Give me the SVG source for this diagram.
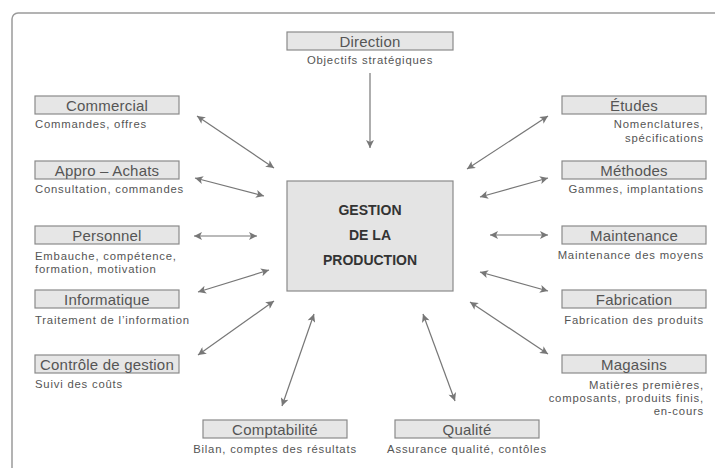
<svg xmlns="http://www.w3.org/2000/svg" width="715" height="468" viewBox="0 0 715 468">
<defs>
<style>
.frame{fill:none;stroke:#9a9a9a;stroke-width:1.5}
.box{fill:#e6e6e6;stroke:#8a8a8a;stroke-width:1.2}
.lbl{font-family:"Liberation Sans",Arial,sans-serif;font-size:15px;letter-spacing:0.2px;fill:#555;text-anchor:middle}
.sub{font-family:"Liberation Sans",Arial,sans-serif;font-size:11.3px;letter-spacing:0.8px;fill:#555}
.c{text-anchor:middle}
.r{text-anchor:end}
.core{fill:#e4e4e4;stroke:#8a8a8a;stroke-width:1.2}
.big{font-family:"Liberation Sans",Arial,sans-serif;font-size:14px;font-weight:bold;fill:#333;text-anchor:middle}
.ln{stroke:#777;stroke-width:1.2;fill:none;marker-end:url(#ah)}
.dl{marker-start:url(#as)}
</style>
<marker id="ah" viewBox="0 0 10 10" refX="10" refY="5" markerWidth="11" markerHeight="8" markerUnits="userSpaceOnUse" orient="auto"><path d="M0,0 L10,5 L0,10 L2.5,5 z" fill="#777"/></marker>
<marker id="as" viewBox="0 0 10 10" refX="0" refY="5" markerWidth="11" markerHeight="8" markerUnits="userSpaceOnUse" orient="auto"><path d="M10,0 L0,5 L10,10 L7.5,5 z" fill="#777"/></marker>
</defs>
<rect width="715" height="468" fill="#fff"/>
<rect class="frame" x="12" y="13" width="760" height="520" rx="6"/>

<g id="connectors">
<line class="ln" x1="370" y1="73" x2="370" y2="148"/>
<line class="ln dl" x1="197" y1="116" x2="274" y2="168"/>
<line class="ln dl" x1="195" y1="178" x2="264" y2="196"/>
<line class="ln dl" x1="194" y1="236" x2="257" y2="236"/>
<line class="ln dl" x1="198" y1="292" x2="269" y2="270"/>
<line class="ln dl" x1="198" y1="355" x2="274" y2="301"/>
<line class="ln dl" x1="282" y1="406" x2="314" y2="314"/>
<line class="ln dl" x1="455" y1="401" x2="423" y2="314"/>
<line class="ln dl" x1="548" y1="354" x2="470" y2="302"/>
<line class="ln dl" x1="548" y1="291" x2="480" y2="272"/>
<line class="ln dl" x1="548" y1="235" x2="490" y2="235"/>
<line class="ln dl" x1="548" y1="178" x2="480" y2="197"/>
<line class="ln dl" x1="548" y1="116" x2="467" y2="169"/>
</g>

<g id="center">
<rect class="core" x="287" y="181" width="166" height="110"/>
<text class="big" x="370" y="215">GESTION</text>
<text class="big" x="370" y="240">DE LA</text>
<text class="big" x="370" y="265">PRODUCTION</text>
</g>

<g id="direction">
<rect class="box" x="287" y="32" width="166" height="18"/>
<text class="lbl" x="370" y="46.5">Direction</text>
<text class="sub c" x="370" y="64">Objectifs stratégiques</text>
</g>

<g id="commercial">
<rect class="box" x="35" y="96" width="144" height="18"/>
<text class="lbl" x="107" y="110.5">Commercial</text>
<text class="sub" x="35" y="128">Commandes, offres</text>
</g>
<g id="appro">
<rect class="box" x="35" y="161" width="144" height="18"/>
<text class="lbl" x="107" y="175.5">Appro – Achats</text>
<text class="sub" x="35" y="193">Consultation, commandes</text>
</g>
<g id="personnel">
<rect class="box" x="35" y="226" width="144" height="18"/>
<text class="lbl" x="107" y="240.5">Personnel</text>
<text class="sub" x="35" y="260">Embauche, compétence,</text>
<text class="sub" x="35" y="273">formation, motivation</text>
</g>
<g id="informatique">
<rect class="box" x="35" y="290" width="144" height="18"/>
<text class="lbl" x="107" y="304.5">Informatique</text>
<text class="sub" x="35" y="324">Traitement de l’information</text>
</g>
<g id="controle">
<rect class="box" x="35" y="355" width="144" height="18"/>
<text class="lbl" x="107" y="369.5">Contrôle de gestion</text>
<text class="sub" x="35" y="388">Suivi des coûts</text>
</g>
<g id="comptabilite">
<rect class="box" x="203" y="420" width="144" height="18"/>
<text class="lbl" x="275" y="434.5">Comptabilité</text>
<text class="sub c" x="275" y="453">Bilan, comptes des résultats</text>
</g>
<g id="qualite">
<rect class="box" x="395" y="420" width="144" height="18"/>
<text class="lbl" x="467" y="434.5">Qualité</text>
<text class="sub c" x="467" y="453">Assurance qualité, contôles</text>
</g>

<g id="etudes">
<rect class="box" x="562" y="96" width="144" height="18"/>
<text class="lbl" x="634" y="110.5">Études</text>
<text class="sub r" x="704" y="128">Nomenclatures,</text>
<text class="sub r" x="704" y="142">spécifications</text>
</g>
<g id="methodes">
<rect class="box" x="562" y="161" width="144" height="18"/>
<text class="lbl" x="634" y="175.5">Méthodes</text>
<text class="sub r" x="704" y="193">Gammes, implantations</text>
</g>
<g id="maintenance">
<rect class="box" x="562" y="226" width="144" height="18"/>
<text class="lbl" x="634" y="240.5">Maintenance</text>
<text class="sub r" x="704" y="259">Maintenance des moyens</text>
</g>
<g id="fabrication">
<rect class="box" x="562" y="290" width="144" height="18"/>
<text class="lbl" x="634" y="304.5">Fabrication</text>
<text class="sub r" x="704" y="324">Fabrication des produits</text>
</g>
<g id="magasins">
<rect class="box" x="562" y="355" width="144" height="18"/>
<text class="lbl" x="634" y="369.5">Magasins</text>
<text class="sub r" x="704" y="389">Matières premières,</text>
<text class="sub r" x="704" y="402">composants, produits finis,</text>
<text class="sub r" x="704" y="415">en-cours</text>
</g>
</svg>
